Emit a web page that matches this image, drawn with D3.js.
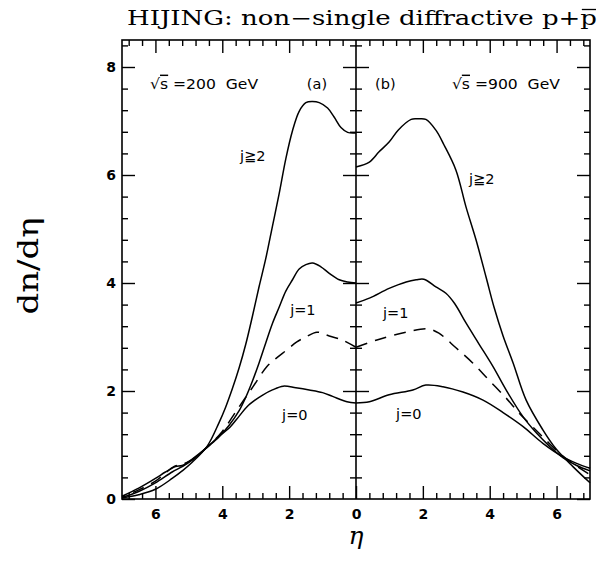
<!DOCTYPE html>
<html><head><meta charset="utf-8">
<script src="https://cdn.jsdelivr.net/npm/d3@7"></script>
<style>body{margin:0;background:#fff}</style>
</head><body>
<svg id="c" width="603" height="565" xmlns="http://www.w3.org/2000/svg"></svg>
<script>
// ---------- data ----------
const etaMajor = [0, 2, 4, 6];
const yMajor = [0, 2, 4, 6, 8];

// panel (a): sqrt(s)=200 GeV
const a_j2_eta = [0, 0.25, 0.45, 0.65, 0.85, 1.1, 1.3, 1.5, 1.7, 1.9, 2.1, 2.3, 2.5, 2.7, 2.9, 3.1, 3.3, 3.5, 3.7, 3.9, 4.1, 4.45, 4.9, 5.2, 5.5, 6.0, 6.5, 7.0];
const a_j2     = [6.78, 6.79, 6.88, 7.07, 7.24, 7.34, 7.36, 7.34, 7.18, 6.82, 6.3, 5.65, 5.05, 4.45, 3.93, 3.38, 2.86, 2.42, 2.04, 1.7, 1.41, 0.98, 0.68, 0.52, 0.38, 0.18, 0.08, 0.02];
const a_j1_eta = [0, 0.25, 0.5, 0.8, 1.05, 1.3, 1.5, 1.7, 1.9, 2.1, 2.3, 2.5, 2.7, 2.9, 3.1, 3.3, 3.5, 3.8, 4.1, 4.45, 4.9, 5.2, 5.5, 6.0, 6.5, 7.0];
const a_j1     = [4.0, 4.02, 4.06, 4.18, 4.3, 4.37, 4.34, 4.26, 4.06, 3.85, 3.55, 3.25, 2.89, 2.52, 2.18, 1.88, 1.63, 1.36, 1.15, 0.96, 0.72, 0.6, 0.5, 0.3, 0.14, 0.03];
const a_all_eta = [0, 0.39, 0.8, 1.17, 1.5, 1.77, 2.07, 2.4, 2.67, 3.08, 3.56, 4.0, 4.45, 4.9, 5.2, 5.45, 5.7, 6.0, 6.5, 7.0];
const a_all     = [2.81, 2.94, 3.02, 3.09, 3.0, 2.91, 2.76, 2.6, 2.45, 2.08, 1.65, 1.25, 0.96, 0.73, 0.64, 0.6, 0.48, 0.33, 0.17, 0.04];
const a_j0_eta = [0, 0.27, 0.7, 1.0, 1.4, 1.8, 2.18, 2.5, 2.78, 3.0, 3.26, 3.5, 3.77, 4.1, 4.45, 4.9, 5.2, 5.4, 5.7, 6.0, 6.5, 7.0];
const a_j0     = [1.78, 1.8, 1.9, 1.97, 2.02, 2.06, 2.09, 2.02, 1.93, 1.84, 1.71, 1.53, 1.33, 1.16, 0.96, 0.74, 0.62, 0.6, 0.5, 0.38, 0.2, 0.05];

// panel (b): sqrt(s)=900 GeV
const b_j2_eta = [0, 0.4, 0.69, 0.99, 1.26, 1.65, 1.85, 2.09, 2.39, 2.63, 2.99, 3.29, 3.59, 3.89, 4.13, 4.4, 4.7, 5.09, 5.59, 5.98, 6.49, 7.0];
const b_j2     = [6.15, 6.24, 6.43, 6.61, 6.83, 7.03, 7.04, 7.03, 6.83, 6.56, 6.09, 5.41, 4.8, 4.11, 3.55, 3.02, 2.52, 1.83, 1.28, 0.93, 0.6, 0.3];
const b_j1_eta = [0, 0.4, 0.99, 1.5, 1.8, 2.03, 2.39, 2.69, 2.95, 3.29, 3.68, 4.1, 4.49, 5.0, 5.4, 5.8, 6.2, 6.6, 7.0];
const b_j1     = [3.63, 3.72, 3.9, 4.02, 4.06, 4.07, 3.93, 3.81, 3.62, 3.26, 2.87, 2.45, 2.02, 1.52, 1.22, 0.97, 0.76, 0.62, 0.52];
const b_all_eta = [0, 0.6, 1.5, 2.15, 2.48, 2.99, 3.49, 3.98, 4.49, 4.88, 5.28, 5.7, 6.1, 6.5, 7.0];
const b_all     = [2.81, 2.94, 3.09, 3.15, 3.07, 2.8, 2.52, 2.2, 1.87, 1.59, 1.34, 1.08, 0.84, 0.65, 0.45];
const b_j0_eta = [0, 0.4, 0.99, 1.7, 2.09, 2.6, 3.2, 3.8, 4.4, 5.0, 5.59, 6.19, 6.6, 7.0];
const b_j0     = [1.78, 1.8, 1.93, 2.02, 2.11, 2.08, 1.98, 1.83, 1.6, 1.34, 1.03, 0.78, 0.66, 0.57];

// text labels (panel, eta, dn/deta, text)
const labelPanel = ["a", "a", "a", "a", "a", "b", "b", "b", "b", "b"];
const labelEta   = [6.16, 1.47, 3.47, 1.97, 2.21, 0.57, 2.87, 3.38, 0.81, 1.2];
const labelVal   = [7.6, 7.6, 6.26, 3.41, 1.47, 7.6, 7.6, 5.83, 3.36, 1.49];
const labelText  = ["√s =200  GeV", "(a)", "j≧2", "j=1", "j=0", "(b)", "√s =900  GeV", "j≧2", "j=1", "j=0"];

const titleText = "HIJING: non−single diffractive p+p";
const yTitle = "dn/dη";
const xTitle = "η";

// ---------- layout ----------
const svg = d3.select("#c");
const pL = 122, pM = 356, pR = 590, pT = 40, pB = 499;
const xA = d3.scaleLinear().domain([0, 7]).range([pM, pL]);
const xB = d3.scaleLinear().domain([0, 7]).range([pM, pR]);
const y = d3.scaleLinear().domain([0, 8.5]).range([pB, pT]);

const etaMinor = d3.range(1, 18).map(i => +(i * 0.4).toFixed(1)).filter(v => v < 7 && Math.abs(v / 2 - Math.round(v / 2)) > 1e-6);
const yMinor = d3.range(1, 22).map(i => +(i * 0.4).toFixed(1)).filter(v => v < 8.5 && Math.abs(v / 2 - Math.round(v / 2)) > 1e-6);

function styleAxis(g) {
  g.select(".domain").remove();
  g.selectAll(".tick line").attr("stroke", "#000").attr("stroke-width", 1.4);
  g.selectAll(".tick text").attr("fill", "#000")
    .style("font-family", "'DejaVu Sans', sans-serif").style("font-weight", "bold").style("font-size", "14px");
}

// x axes
[xA, xB].forEach((xs, i) => {
  svg.append("g").attr("transform", `translate(0,${pB})`)
    .call(d3.axisBottom(xs).tickValues(i === 0 ? etaMajor : etaMajor.slice(1)).tickSize(-13).tickPadding(10).tickFormat(d3.format("d")))
    .call(styleAxis);
  svg.append("g").attr("transform", `translate(0,${pB})`)
    .call(d3.axisBottom(xs).tickValues(etaMinor).tickSize(-6).tickFormat("")).call(styleAxis);
  svg.append("g").attr("transform", `translate(0,${pT})`)
    .call(d3.axisTop(xs).tickValues(etaMajor.slice(1)).tickSize(-13).tickFormat("")).call(styleAxis);
  svg.append("g").attr("transform", `translate(0,${pT})`)
    .call(d3.axisTop(xs).tickValues(etaMinor).tickSize(-6).tickFormat("")).call(styleAxis);
});

// y axes
svg.append("g").attr("transform", `translate(${pL},0)`)
  .call(d3.axisLeft(y).tickValues(yMajor).tickSize(-13).tickPadding(6).tickFormat(d3.format("d"))).call(styleAxis);
svg.append("g").attr("transform", `translate(${pL},0)`)
  .call(d3.axisLeft(y).tickValues(yMinor).tickSize(-6).tickFormat("")).call(styleAxis);
svg.append("g").attr("transform", `translate(${pR},0)`)
  .call(d3.axisRight(y).tickValues(yMajor).tickSize(-13).tickFormat("")).call(styleAxis);
svg.append("g").attr("transform", `translate(${pR},0)`)
  .call(d3.axisRight(y).tickValues(yMinor).tickSize(-6).tickFormat("")).call(styleAxis);
// middle axis, ticks on both sides
[d3.axisLeft, d3.axisRight].forEach(ax => {
  svg.append("g").attr("transform", `translate(${pM},0)`)
    .call(ax(y).tickValues(yMajor.slice(1)).tickSize(13).tickFormat("")).call(styleAxis);
  svg.append("g").attr("transform", `translate(${pM},0)`)
    .call(ax(y).tickValues(yMinor).tickSize(6).tickFormat("")).call(styleAxis);
});

// frame
svg.append("rect").attr("x", pL).attr("y", pT).attr("width", pR - pL).attr("height", pB - pT)
  .attr("fill", "none").attr("stroke", "#000").attr("stroke-width", 1.6);
svg.append("line").attr("x1", pM).attr("x2", pM).attr("y1", pT).attr("y2", pB)
  .attr("stroke", "#000").attr("stroke-width", 1.6);

// curves
const series = [
  [xA, a_j2_eta, a_j2, false], [xA, a_j1_eta, a_j1, false], [xA, a_all_eta, a_all, true], [xA, a_j0_eta, a_j0, false],
  [xB, b_j2_eta, b_j2, false], [xB, b_j1_eta, b_j1, false], [xB, b_all_eta, b_all, true], [xB, b_j0_eta, b_j0, false]
];
series.forEach(([xs, etas, vals, dashed]) => {
  const line = d3.line().x(d => xs(d[0])).y(d => y(d[1])).curve(d3.curveCatmullRom.alpha(0.5));
  svg.append("path").datum(etas.map((e, i) => [e, vals[i]]))
    .attr("d", line).attr("fill", "none").attr("stroke", "#000").attr("stroke-width", 1.5)
    .attr("stroke-linejoin", "round")
    .attr("stroke-dasharray", dashed ? "12,8" : null);
});

// labels
labelText.forEach((t, i) => {
  const xs = labelPanel[i] === "a" ? xA : xB;
  const txt = svg.append("text").attr("x", xs(labelEta[i])).attr("y", y(labelVal[i]))
    .style("font-family", "'DejaVu Sans', sans-serif").style("font-size", "14.5px")
    .style("white-space", "pre").attr("fill", "#000");
  if (t.startsWith("√")) {
    txt.append("tspan").text("√");
    txt.append("tspan").text("s").style("text-decoration", "overline");
    txt.append("tspan").text(t.slice(2));
    txt.attr("textLength", 108).attr("lengthAdjust", "spacingAndGlyphs");
  } else {
    txt.text(t);
  }
});

// title
const tt = svg.append("text").attr("x", 597).attr("y", 25).attr("text-anchor", "end")
  .style("font-family", "'DejaVu Serif', serif").style("font-size", "20.5px").attr("fill", "#000")
  .attr("textLength", 470).attr("lengthAdjust", "spacingAndGlyphs")
  .text(titleText);
{
  const n = titleText.length - 1;
  const ext = tt.node().getExtentOfChar(n);
  svg.append("line").attr("x1", ext.x + 1.5).attr("x2", ext.x + ext.width - 1)
    .attr("y1", 9.5).attr("y2", 9.5).attr("stroke", "#000").attr("stroke-width", 1.3);
}

// axis titles
svg.append("text").attr("transform", "translate(38,266) rotate(-90)").attr("text-anchor", "middle")
  .style("font-family", "'DejaVu Serif', serif").style("font-size", "28px").attr("fill", "#000")
  .attr("textLength", 97).attr("lengthAdjust", "spacingAndGlyphs").text(yTitle);
svg.append("text").attr("x", 356).attr("y", 544).attr("text-anchor", "middle")
  .style("font-family", "'DejaVu Serif', serif").style("font-style", "italic").style("font-size", "25px")
  .attr("fill", "#000").text(xTitle);
</script>
</body></html>
